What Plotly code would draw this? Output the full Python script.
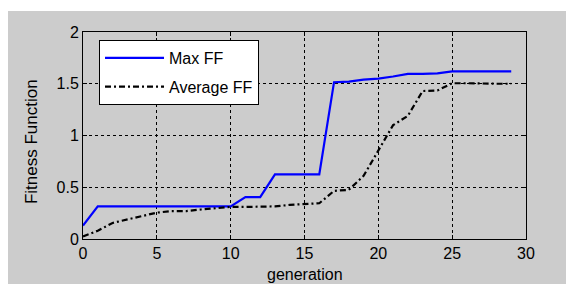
import plotly.graph_objects as go

generation = list(range(30))
max_ff = [0.13, 0.315, 0.315, 0.315, 0.315, 0.315, 0.315, 0.315, 0.315, 0.315,
          0.315, 0.405, 0.405, 0.625, 0.625, 0.625, 0.625, 1.515, 1.52, 1.54,
          1.55, 1.57, 1.595, 1.595, 1.60, 1.62, 1.62, 1.62, 1.62, 1.62]
avg_ff = [0.025, 0.08, 0.155, 0.19, 0.22, 0.255, 0.27, 0.27, 0.285, 0.30,
          0.31, 0.31, 0.31, 0.315, 0.33, 0.34, 0.345, 0.465, 0.475, 0.61,
          0.85, 1.10, 1.19, 1.43, 1.435, 1.505, 1.505, 1.50, 1.50, 1.50]
x_ticks = [0, 5, 10, 15, 20, 25, 30]
y_ticks = [0, 0.5, 1, 1.5, 2]
y_tick_labels = ["0", "0.5", "1", "1.5", "2"]

FONT = "Liberation Sans, Arial, sans-serif"
OFF = 8  # page body margin
W, H = 574 - OFF, 284 - OFF
# plot area in window pixels
PL, PR, PT, PB = 83, 525.6, 32, 238.7
L, R, T, B = PL - OFF, W - (PR - OFF), PT - OFF, H - (PB - OFF)

fig = go.Figure()
fig.add_trace(go.Scatter(x=generation, y=max_ff, mode="lines", name="Max FF",
                         legendgroup="a",
                         line=dict(color="#0000ff", width=2.2)))
fig.add_trace(go.Scatter(x=generation, y=avg_ff, mode="lines", name="Average FF",
                         legendgroup="b",
                         line=dict(color="black", width=2.2, dash="6px,3px,2px,3px")))

pw = PR - PL
ph = PB - PT
def px(xw):
    return (xw - PL) / pw
def py(yw):
    return (PB - yw) / ph

fig.add_shape(type="rect", xref="paper", yref="paper", layer="below",
              x0=px(8), x1=px(580), y0=py(290), y1=py(11),
              fillcolor="#cccccc", line=dict(width=0))

axis_common = dict(showline=True, linecolor="black", linewidth=1, mirror="ticks",
                   ticks="inside", ticklen=4, tickcolor="black",
                   showgrid=True, gridcolor="black", gridwidth=1, griddash="3px,3px",
                   zeroline=False, tickfont=dict(family=FONT, size=16, color="black"))

fig.update_xaxes(range=[0, 30], tickvals=x_ticks, **axis_common)
fig.update_yaxes(range=[0, 2], tickvals=y_ticks, ticktext=y_tick_labels, **axis_common)

fig.add_annotation(text="generation", xref="paper", yref="paper", x=0.5, y=py(274),
                   xanchor="center", yanchor="middle", showarrow=False,
                   font=dict(family=FONT, size=16, color="black"))
fig.add_annotation(text="Fitness Function", xref="paper", yref="paper", x=px(31), y=py(141),
                   xanchor="center", yanchor="middle", textangle=-90, showarrow=False,
                   font=dict(family=FONT, size=17, color="black"))

fig.update_layout(
    width=W, height=H,
    margin=dict(l=L, r=R, t=T, b=B, autoexpand=False),
    paper_bgcolor="white", plot_bgcolor="white",
    font=dict(family=FONT, size=16, color="black"),
    showlegend=True,
    legend=dict(x=px(99), y=py(40), xanchor="left", yanchor="top",
                bgcolor="white", bordercolor="black", borderwidth=1,
                font=dict(family=FONT, size=16, color="black"),
                itemwidth=59, traceorder="grouped", tracegroupgap=5),
)

fig.write_html("out.html")
